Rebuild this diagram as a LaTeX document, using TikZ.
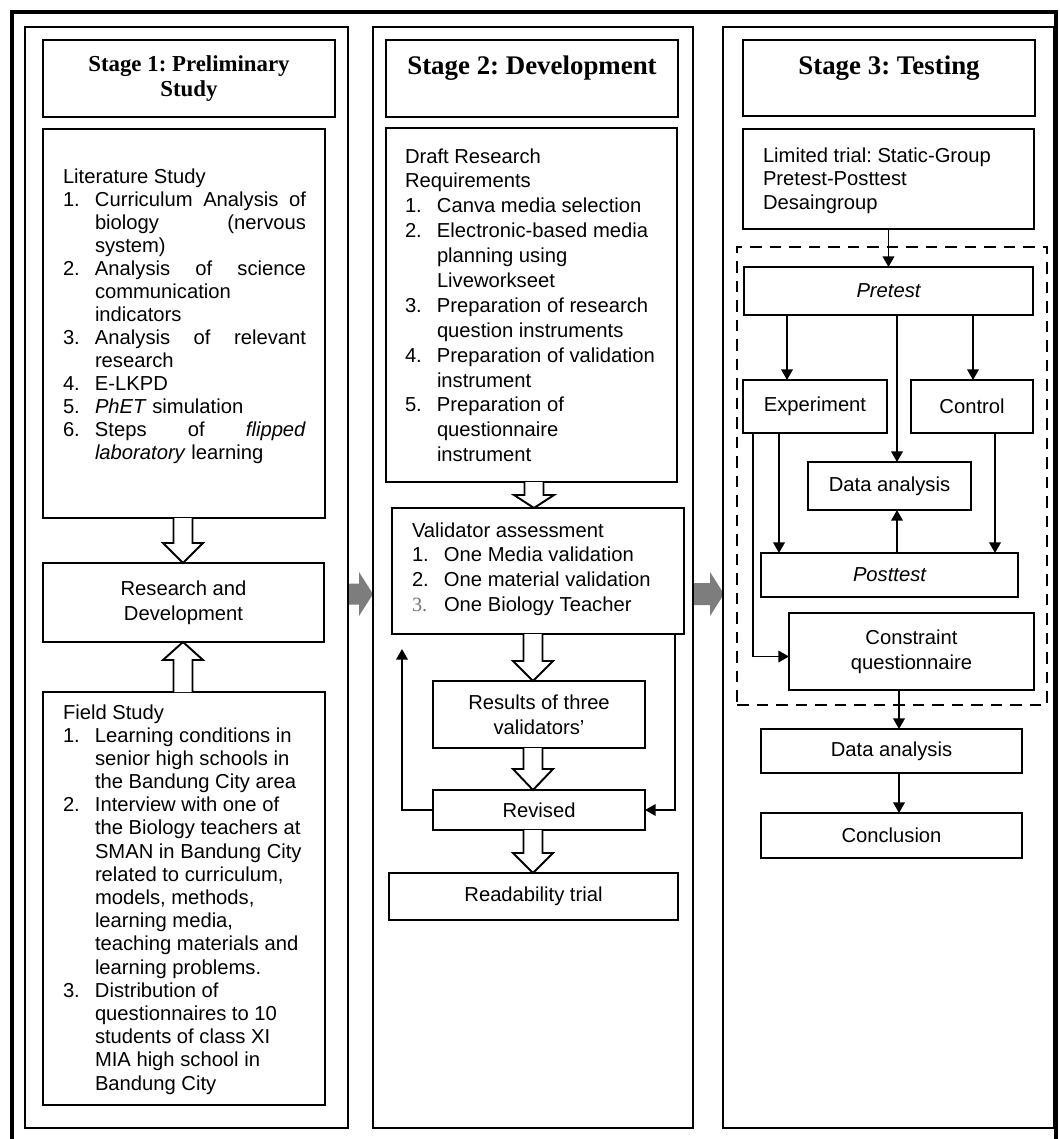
\documentclass[tikz,border=0pt]{standalone}
\usepackage{fontspec}
\setmainfont{Liberation Serif}
\setsansfont{Liberation Sans}
\usetikzlibrary{arrows.meta,calc}
\frenchspacing
\definecolor{arrowgray}{RGB}{125,125,125}
\newlength\pu
\setlength\pu{0.02cm}
\newcommand\inum[1]{\makebox[32\pu][l]{#1}}
\newcommand\icont{\hspace*{32\pu}}
\newcommand\jl[1]{\makebox[211\pu][s]{#1}}
\newcommand\bodyfont[1]{\sffamily\fontsize{11.5}{#1}\selectfont}
\newcommand\rbox[7][]{\node[box,anchor=north west,minimum width={(#5-#3)*0.02cm},minimum height={(#6-#4)*0.02cm},#1] (#2) at (#3,#4) {#7};}
\newcommand\hollow[4]{%
  \coordinate (hx) at (#1,0);
  \coordinate (hs) at (hx |- #2);
  \coordinate (ht) at (hx |- #3);
  \draw[hollowarr] ($(hs)+(-9.5,0)$) -- ($(ht)+(-9.5,#4)$) -- ($(ht)+(-20,#4)$) -- (ht) -- ($(ht)+(20,#4)$) -- ($(ht)+(9.5,#4)$) -- ($(hs)+(9.5,0)$);}
\tikzset{
  box/.style={draw, line width=1.1pt, inner sep=0pt, outer sep=0pt, rectangle,
    font=\sffamily\fontsize{11.5}{14.2}\selectfont, align=center},
  colbox/.style={line width=1.4pt},
  groupbox/.style={line width=1.3pt, dash pattern=on 6.6pt off 4.5pt},
  hollowarr/.style={draw, fill=white, line width=1.1pt, line join=miter},
  arr/.style={line width=1.1pt, -{Triangle[length=6pt,width=6.5pt]}},
  txt/.style={anchor=base west, inner sep=0pt, outer sep=0pt},
  ttl/.style={anchor=base, inner sep=0pt, outer sep=0pt},
}
\begin{document}
\begin{tikzpicture}[x=0.02cm,y=-0.02cm]
\useasboundingbox (0,0) rectangle (1060,1139);
\clip (0,0) rectangle (1060,1139);
% outer frame
\draw[line width=2.2pt] (12,1200) -- (12,12) -- (1056,12) -- (1056,1200);
% gray arrows between columns
\coordinate (g1s) at (348,594); \coordinate (g1t) at (373,594);
\coordinate (g2s) at (693,594); \coordinate (g2t) at (724,594);
\fill[arrowgray] ($(g1s)+(-1,-10.5)$) -- ($(g1t)+(-14,-10.5)$) -- ($(g1t)+(-14,-22)$) -- (g1t) -- ($(g1t)+(-14,22)$) -- ($(g1t)+(-14,10.5)$) -- ($(g1s)+(-1,10.5)$) -- cycle;
\fill[arrowgray] ($(g2s)+(-1,-11)$) -- ($(g2t)+(-14,-11)$) -- ($(g2t)+(-14,-22)$) -- (g2t) -- ($(g2t)+(-14,22)$) -- ($(g2t)+(-14,11)$) -- ($(g2s)+(-1,11)$) -- cycle;
% column boxes
\rbox[colbox]{col1}{25}{27}{348}{1128}{}
\rbox[colbox]{col2}{373}{27}{693}{1128}{}
\rbox[colbox]{col3}{723}{27}{1054}{1128}{}

% ---------- Stage 1 ----------
\rbox{t1box}{43}{40}{335}{117}{}
\node[ttl] (t1) at (189,71) {\parbox[t]{280\pu}{\centering\rmfamily\bfseries\fontsize{13}{14.7}\selectfont Stage 1: Preliminary\\Study}};
\rbox{lit}{43}{129}{325}{518}{}
\node[txt] (littext) at (63,183) {\parbox[t]{250\pu}{\bodyfont{13.12}%
Literature Study\\
\inum{1.}\jl{Curriculum Analysis of}\\
\icont\jl{biology (nervous}\\
\icont system)\\
\inum{2.}\jl{Analysis of science}\\
\icont communication\\
\icont indicators\\
\inum{3.}\jl{Analysis of relevant}\\
\icont research\\
\inum{4.}E-LKPD\\
\inum{5.}\textit{PhET} simulation\\
\inum{6.}\jl{Steps of \textit{flipped}}\\
\icont\textit{laboratory} learning}};
\rbox{rd}{43}{563}{324}{642}{Research and\\Development}
\rbox{field}{43}{692}{325}{1105}{}
\node[txt] (fieldtext) at (63,719) {\parbox[t]{260\pu}{\bodyfont{13.2}%
Field Study\\
\inum{1.}Learning conditions in\\
\icont senior high schools in\\
\icont the Bandung City area\\
\inum{2.}Interview with one of\\
\icont the Biology teachers at\\
\icont SMAN in Bandung City\\
\icont related to curriculum,\\
\icont models, methods,\\
\icont learning media,\\
\icont teaching materials and\\
\icont learning problems.\\
\inum{3.}Distribution of\\
\icont questionnaires to 10\\
\icont students of class XI\\
\icont MIA high school in\\
\icont Bandung City}};
\hollow{183}{lit.south}{rd.north}{-20}
\hollow{183}{field.north}{rd.south}{18}

% ---------- Stage 2 ----------
\rbox{t2box}{386}{40}{678}{117}{}
\node[ttl] (t2) at (532,74) {\rmfamily\bfseries\fontsize{15.3}{18}\selectfont Stage 2: Development};
\rbox{draft}{386}{128}{677}{482}{}
\node[txt] (drafttext) at (405,163) {\parbox[t]{265\pu}{\bodyfont{14.17}%
Draft Research\\
Requirements\\
\inum{1.}Canva media selection\\
\inum{2.}Electronic-based media\\
\icont planning using\\
\icont Liveworkseet\\
\inum{3.}Preparation of research\\
\icont question instruments\\
\inum{4.}Preparation of validation\\
\icont instrument\\
\inum{5.}Preparation of\\
\icont questionnaire\\
\icont instrument}};
\rbox{valid}{392}{508}{684}{634}{}
\node[txt] (validtext) at (412,537) {\parbox[t]{265\pu}{\bodyfont{14.17}%
Validator assessment\\
\inum{1.}One Media validation\\
\inum{2.}One material validation\\
\inum{{\color{black!55}\rmfamily 3.}}One Biology Teacher}};
\rbox{results}{433}{681}{645}{748}{Results of three\\validators'}
\rbox{revised}{433}{790}{645}{830}{Revised}
\rbox{readab}{389}{873}{678}{920}{Readability trial}
\hollow{534}{draft.south}{valid.north}{-13}
\hollow{533}{valid.south}{results.north}{-20}
\hollow{533}{results.south}{revised.north}{-21}
\hollow{533}{revised.south}{readab.north}{-20}
\coordinate (loopL) at (402,649);
\draw[arr] (revised.west) -| (loopL);
\coordinate (xr) at (675,0);
\draw[arr] (xr |- valid.south) |- (revised.east);

% ---------- Stage 3 ----------
\rbox{t3box}{743}{40}{1035}{116}{}
\node[ttl] (t3) at (889,74) {\rmfamily\bfseries\fontsize{15.3}{18}\selectfont Stage 3: Testing};
\rbox{limited}{743}{129}{1034}{229}{}
\node[txt] (limtext) at (763,162) {\parbox[t]{265\pu}{\bodyfont{13.6}%
Limited trial: Static-Group\\
Pretest-Posttest\\
Desaingroup}};
\rbox[groupbox,draw]{group}{737}{247}{1047}{705}{}
\rbox{pretest}{744}{267}{1033}{315}{\itshape Pretest}
\rbox{exper}{743}{380}{887}{433}{Experiment}
\rbox{control}{911}{380}{1033}{433}{Control}
\rbox{daone}{808}{462}{971}{510}{Data analysis}
\rbox{post}{761}{553}{1018}{597}{\itshape Posttest}
\rbox{cons}{789}{613}{1034}{690}{Constraint\\questionnaire}
\rbox{datwo}{761}{729}{1022}{773}{Data analysis}
\rbox{concl}{761}{813}{1022}{858}{Conclusion}
\coordinate (xa) at (787,0);
\coordinate (xb) at (897,0);
\coordinate (xc) at (973,0);
\coordinate (xd) at (779,0);
\coordinate (xe) at (995,0);
\coordinate (xf) at (753,0);
\coordinate (xg) at (899,0);
\draw[arr] (limited.south) -- (pretest.north);
\draw[arr] (xa |- pretest.south) -- (xa |- exper.north);
\draw[arr] (xc |- pretest.south) -- (xc |- control.north);
\draw[arr] (xb |- pretest.south) -- (xb |- daone.north);
\draw[arr] (xd |- exper.south) -- (xd |- post.north);
\draw[arr] (xe |- control.south) -- (xe |- post.north);
\draw[arr] (xb |- post.north) -- (xb |- daone.south);
\draw[arr] (xf |- exper.south) |- ($(cons.west)+(0,5)$);
\draw[arr] (xg |- cons.south) -- (xg |- datwo.north);
\draw[arr] (xg |- datwo.south) -- (xg |- concl.north);
\end{tikzpicture}
\end{document}
